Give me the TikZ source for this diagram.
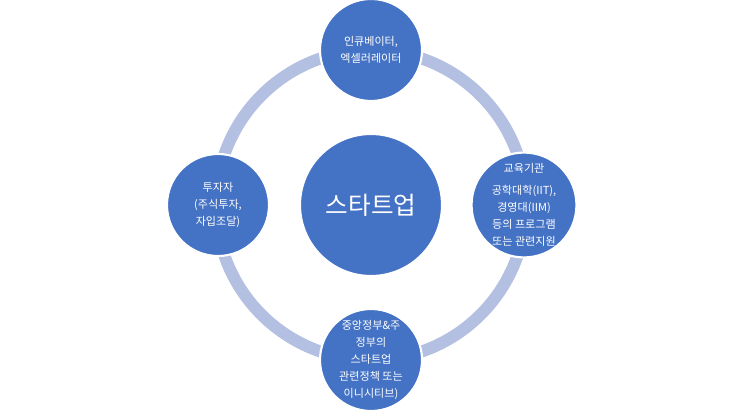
\documentclass[tikz,border=0pt]{standalone}
\usepackage{fontspec}
\setmainfont{Noto Sans CJK KR}
\definecolor{ringblue}{HTML}{B4C0E1}
\definecolor{nodeblue}{HTML}{4472C4}
\tikzset{
  hub/.style={circle, fill=nodeblue, draw=white, line width=1.2pt, minimum size=142\pxu, text=white, font=\fontsize{14}{16}\selectfont},
  spoke/.style={circle, fill=nodeblue, draw=white, line width=1.2pt, minimum size=102\pxu, text=white, align=center, inner sep=0pt, font=\fontsize{6.3}{9.6}\selectfont}
}
\newlength{\pxu}\setlength{\pxu}{0.02cm}
\begin{document}
\begin{tikzpicture}[x=0.02cm, y=-0.02cm]
	\useasboundingbox (0,0) rectangle (743,411);
	\draw[ringblue, line width=12\pxu] (371,205) circle[radius=155];
	
	\node[hub] (startup) at (371,205) {스타트업};
	\node[spoke] (incub) at (371,50) {인큐베이터,\\엑셀러레이터};
	\node[spoke] (edu) at (524,205) {교육기관\\[3pt]공학대학(IIT),\\경영대(IIM)\\등의 프로그램\\또는 관련지원};
	\node[spoke] (gov) at (371,360) {중앙정부\&주\\정부의\\스타트업\\관련정책 또는\\이니시티브)};
	\node[spoke] (invest) at (218,205) {투자자\\(주식투자,\\자입조달)};
\end{tikzpicture}
\end{document}
